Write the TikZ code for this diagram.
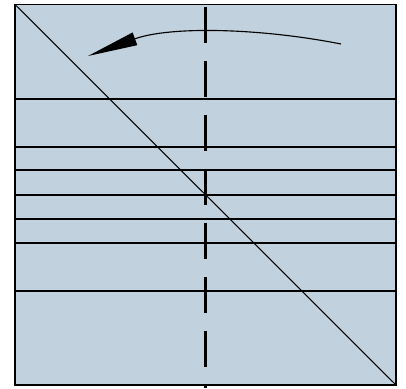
\documentclass[tikz,border=0pt]{standalone}
\usepackage{xcolor}
\usepackage{tikz}
\usetikzlibrary{arrows.meta}
\definecolor{PlateBlue}{RGB}{193,209,221}

\begin{document}
\begin{tikzpicture}[x=0.025cm, y=-0.025cm,
          plate/.style={draw=black, fill=PlateBlue, line width=1.1pt},
          layer/.style={draw=black, line width=0.75pt},
          axis/.style={draw=black, line width=2.4pt,
                       dash pattern=on 25.6pt off 12.8pt},
          turn/.style={draw=black, line width=0.8pt,
                       -{Triangle[length=1.25cm, width=0.33cm]}}
        ]
        \useasboundingbox (0,0) rectangle (406,388);

        % Plate
        \coordinate (tl) at (15,4.5);
        \coordinate (br) at (396,385);
        \path[plate] (tl) rectangle (br);

        % Layers
        \foreach \y in {99, 147, 170, 195, 219, 243, 291} {
          \draw[layer] (15,\y) -- (396,\y);
        }

        % Diagonal
        \draw[layer] (tl) -- (br);

        % Rotation axis
        \coordinate (axtop) at (205.5,7);
        \coordinate (axbot) at (205.5,388);
        \draw[axis] (axtop) -- (axbot);

        % Rotation arrow
        \coordinate (rstart) at (341,44);
        \coordinate (rend) at (88,56);
        \draw[turn] (rstart) .. controls (260,28) and (170,26) .. (rend);
      \end{tikzpicture}
\end{document}
